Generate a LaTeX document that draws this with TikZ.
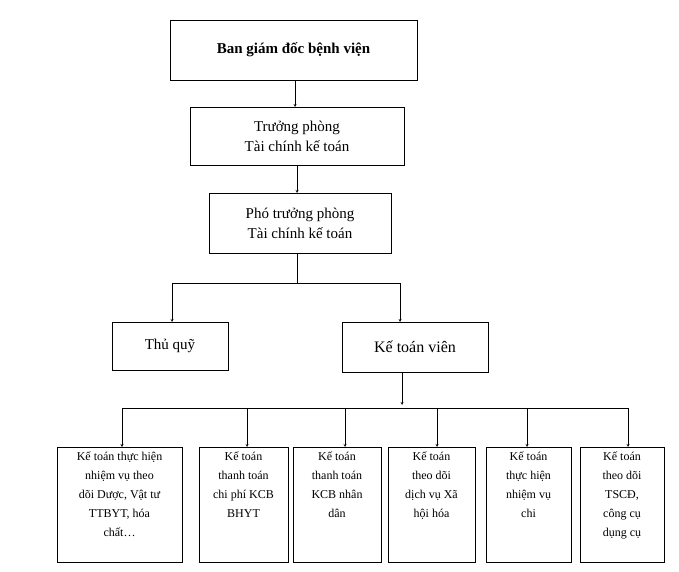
\documentclass[tikz,border=0pt]{standalone}
\usepackage{fontspec}
\setmainfont{Liberation Serif}
\usetikzlibrary{positioning}
\tikzset{
	box/.style={draw, thick, align=center, inner sep=0pt},
	leaf/.style={draw, thick, align=center, anchor=north, minimum height=115pt, text width=#1, font=\fontsize{12}{19}\selectfont},
	arr/.style={->, >=stealth},
}
\begin{document}
\begin{tikzpicture}[x=1pt, y=-1pt]
	\useasboundingbox (0,0) rectangle (679,572);
	%top chain
	\node[box, minimum width=247pt, minimum height=60pt, font=\fontsize{15}{18}\selectfont\bfseries] (bgd) at (293.5,50) {Ban giám đốc bệnh viện};
	\node[box, minimum width=214pt, minimum height=58pt, font=\fontsize{15}{20}\selectfont] (tp) at (297,136) {Trưởng phòng\\Tài chính kế toán};
	\node[box, minimum width=182pt, minimum height=60pt, font=\fontsize{15}{20}\selectfont] (ptp) at (300,223) {Phó trưởng phòng\\Tài chính kế toán};
	\draw[arr] (295,80) -- (295,107);
	\draw[arr] (297,165) -- (297,193);

	%second level
	\node[box, minimum width=116pt, minimum height=48pt, font=\fontsize{15}{18}\selectfont] (tq) at (170,346) {Thủ quỹ};
	\node[box, minimum width=146pt, minimum height=50pt, font=\fontsize{16}{18}\selectfont] (ktv) at (415,347) {Kế toán viên};
	\coordinate (split) at (297,283);
	\draw (297,253) -- (split);
	\draw (172,283) -- (400,283);
	\draw[arr] (172,283) -- (172,322);
	\draw[arr] (400,283) -- (400,322);

	%bottom level
	\draw[arr] (402,372) -- (402,405);
	\draw (122,408) -- (628,408);
	\foreach \x/\ax/\w/\name/\txt in {
		119.5/122/125/ka/{Kế toán thực hiện\\nhiệm vụ theo\\dõi Dược, Vật tư\\TTBYT, hóa\\chất…},
		243.5/247/89/kb/{Kế toán\\thanh toán\\chi phí KCB\\BHYT},
		337/345/88/kc/{Kế toán\\thanh toán\\KCB nhân\\dân},
		431.5/437/87/kd/{Kế toán\\theo dõi\\dịch vụ Xã\\hội hóa},
		528.5/527/85/ke/{Kế toán\\thực hiện\\nhiệm vụ\\chi},
		622/628/84/kf/{Kế toán\\theo dõi\\TSCĐ,\\công cụ\\dụng cụ}} {
		\node[leaf=\w pt, minimum width=\w pt, anchor=north, inner sep=0pt] (\name) at (\x,447) {};
		\node[anchor=north, align=center, font=\fontsize{12}{19}\selectfont, inner sep=0pt] at (\x,452) {\txt};
		\draw[arr] (\ax,408) -- (\ax,447);
	}
\end{tikzpicture}
\end{document}
